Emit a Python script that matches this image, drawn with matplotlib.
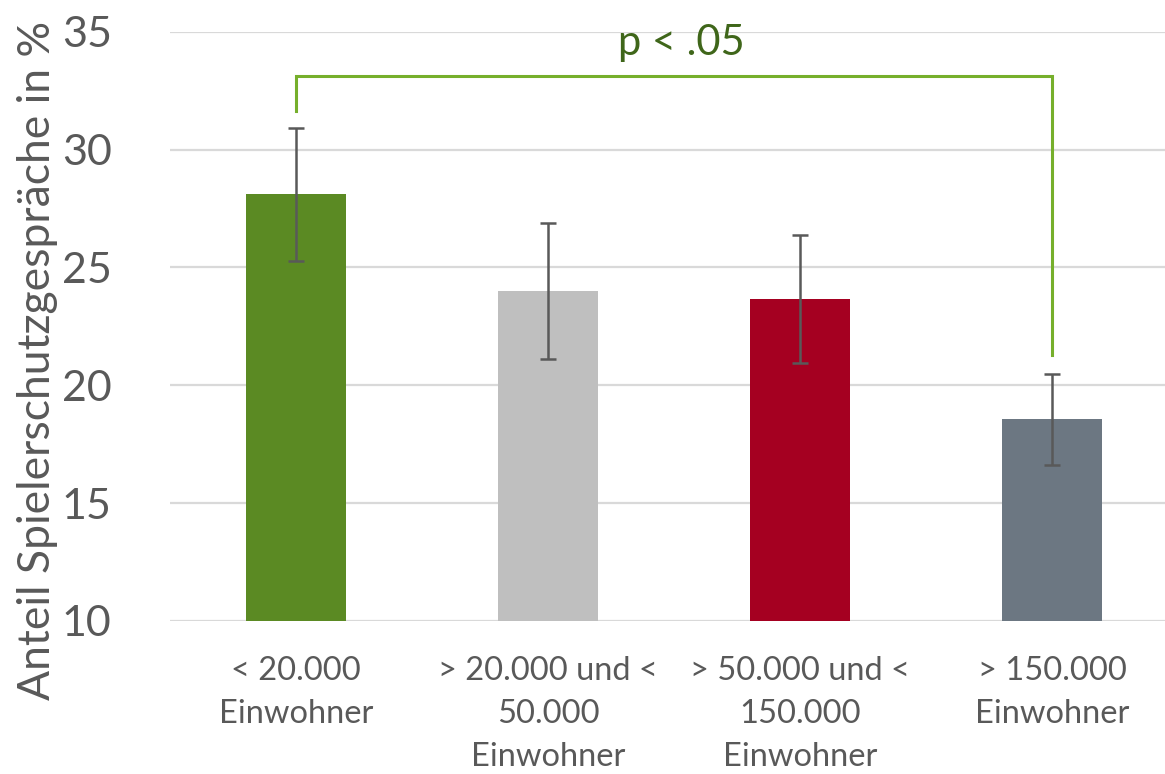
import matplotlib
matplotlib.use("Agg")
import matplotlib.pyplot as plt

# Share of player-protection conversations by municipality size
categories = [
    "< 20.000\nEinwohner",
    "> 20.000 und <\n50.000\nEinwohner",
    "> 50.000 und <\n150.000\nEinwohner",
    "> 150.000\nEinwohner",
]
values = [28.1, 24.0, 23.65, 18.55]
errors = [2.82, 2.9, 2.72, 1.92]
colors = ["#5B8A23", "#BFBFBF", "#A50021", "#6C7782"]
y_ticks = [10, 15, 20, 25, 30, 35]
sig_label = "p < .05"
sig_pair = (0, 3)
sig_height = 33.1
sig_leg_ends = (31.65, 21.3)

plt.rcParams["font.family"] = ["Lato", "DejaVu Sans"]

W, H = 1165, 774
fig = plt.figure(figsize=(W / 100, H / 100), dpi=100)
ax = fig.add_axes([170 / W, 1 - 621 / H, (W - 170) / W, (621 - 31.7) / H])

x = list(range(len(categories)))
ax.bar(x, values, width=0.4, color=colors, zorder=2)
ax.errorbar(x, values, yerr=errors, fmt="none", ecolor="#595959",
            elinewidth=1.8, capsize=6, capthick=1.8, zorder=3)

ax.set_ylim(10, 35)
ax.set_xlim(-0.5, -0.5 + (W - 170) / 252)
ax.set_yticks(y_ticks)
ax.set_yticklabels([str(t) for t in y_ticks])
ax.set_xticks(x)
ax.set_xticklabels(categories, linespacing=1.55)
ax.grid(axis="y", color="#D9D9D9", linewidth=1.6, zorder=0)
ax.set_axisbelow(True)
for s in ax.spines.values():
    s.set_visible(False)
ax.tick_params(axis="both", length=0, colors="#595959")
ax.tick_params(axis="y", labelsize=31, pad=42)
ax.tick_params(axis="x", labelsize=23.5, pad=25)

# significance bracket
x0, x1 = sig_pair
ax.plot([x0, x0, x1, x1], [sig_leg_ends[0], sig_height, sig_height, sig_leg_ends[1]],
        color="#76AF2C", linewidth=2.2, clip_on=False, zorder=4,
        solid_joinstyle="miter")
ax.text((x0 + x1) / 2 + 0.03, 34.0, sig_label, ha="center", va="baseline",
        fontsize=30, color="#3F661A", clip_on=False, zorder=5)

fig.text(38 / W, 1 - 360 / H, "Anteil Spielerschutzgespräche in %",
         rotation=90, ha="center", va="center", fontsize=32, color="#595959")

fig.savefig("out.png", dpi=100)
